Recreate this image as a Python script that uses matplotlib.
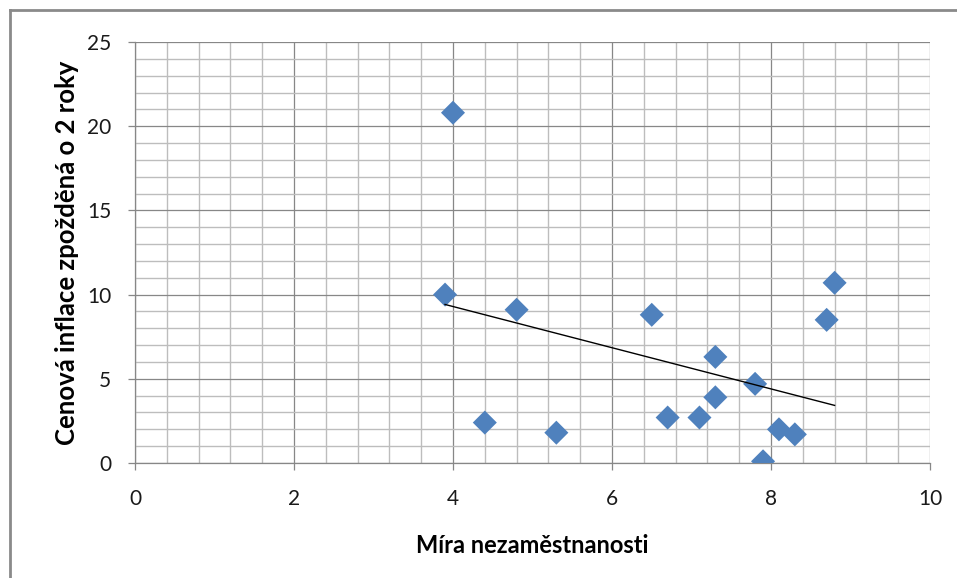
import numpy as np
import matplotlib.pyplot as plt
from matplotlib.ticker import MultipleLocator
from matplotlib.lines import Line2D

plt.rcParams['font.family'] = ['Lato', 'DejaVu Sans']

# unemployment rate vs. price inflation lagged by two years
unemployment = [4.0, 3.9, 4.8, 4.4, 5.3, 6.5, 6.7, 7.1, 7.3, 7.3, 7.8, 7.9, 8.1, 8.3, 8.7, 8.8]
inflation_lag2 = [20.8, 10.0, 9.1, 2.4, 1.8, 8.8, 2.7, 2.7, 6.3, 3.9, 4.7, 0.1, 2.0, 1.7, 8.5, 10.7]

x_label = "Míra nezaměstnanosti"
y_label = "Cenová inflace zpožděná o 2 roky"

fig = plt.figure(figsize=(9.57, 5.78), dpi=100, facecolor='white')
ax = fig.add_axes([135 / 957, 115 / 578, 795 / 957, 421 / 578])

major_c = '#878787'
minor_c = '#bdbdbd'

ax.set_xlim(0, 10)
ax.set_ylim(0, 25)
ax.xaxis.set_major_locator(MultipleLocator(2))
ax.xaxis.set_minor_locator(MultipleLocator(0.4))
ax.yaxis.set_major_locator(MultipleLocator(5))
ax.yaxis.set_minor_locator(MultipleLocator(1))
ax.grid(which='minor', color=minor_c, linewidth=1.0)
ax.grid(which='major', color=major_c, linewidth=0.9)
ax.set_axisbelow(True)

for side in ('top', 'right'):
    ax.spines[side].set_visible(False)
for side in ('left', 'bottom'):
    ax.spines[side].set_color(major_c)
    ax.spines[side].set_linewidth(0.9)

ax.tick_params(which='major', direction='out', length=5, width=0.9, color=major_c,
               labelsize=15, labelcolor='#1a1a1a')
ax.tick_params(which='minor', length=0)
ax.tick_params(axis='x', pad=14)
ax.tick_params(axis='y', pad=12)

ax.scatter(unemployment, inflation_lag2, marker='D', s=150, color='#4F81BD',
           edgecolors='none', zorder=3)

# linear trend line over the observed range
k, q = np.polyfit(unemployment, inflation_lag2, 1)
xs = np.array([min(unemployment), max(unemployment)])
ax.plot(xs, k * xs + q, color='black', linewidth=1.0, zorder=4)

ax.set_xlabel(x_label, fontsize=17, fontweight='bold', labelpad=18)
ax.set_ylabel(y_label, fontsize=18.5, fontweight='bold', labelpad=6)

# chart frame (left and top edges)
fig.add_artist(Line2D([10 / 957, 10 / 957], [0, 1 - 10 / 578], color='#8a8a8a', linewidth=2))
fig.add_artist(Line2D([10 / 957, 1], [1 - 10 / 578, 1 - 10 / 578], color='#8a8a8a', linewidth=2))

fig.savefig('out.png', dpi=100, facecolor='white')
